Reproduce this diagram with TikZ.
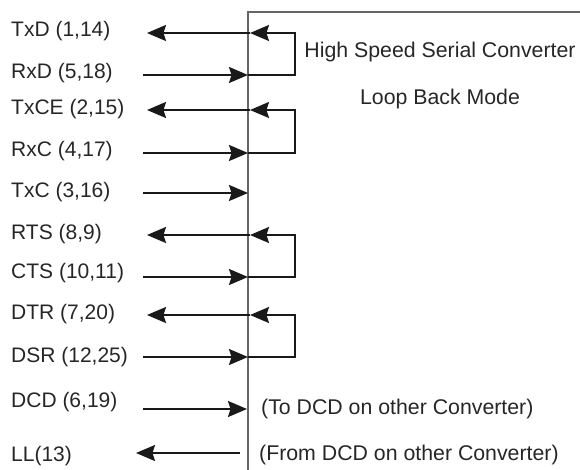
\documentclass[tikz,border=0pt]{standalone}
\usepackage{fontspec}
\setmainfont{Liberation Sans}
\usetikzlibrary{arrows.meta}
\begin{document}
\begin{tikzpicture}[x=1pt,y=-1pt,
  lbl/.style={anchor=west,inner sep=0pt,text=black!85,font=\fontsize{21}{25}\selectfont},
  rtxt/.style={inner sep=0pt,text=black!85,font=\fontsize{21.3}{25}\selectfont},
  sig/.style={line width=1.8pt,black!90},
  tip/.style={-{Stealth[length=19pt,width=16pt,inset=2.5pt]}},
  boxline/.style={line width=2.2pt,black!60}]
\useasboundingbox (0,0) rectangle (580,470);
% box
\coordinate (top) at (248,12);
\coordinate (bot) at (248,470);
\coordinate (topR) at (580,12);
\draw[boxline] (bot) -- (top) -- (topR);
% labels
\node[lbl] (lTxD) at (11,31) {TxD (1,14)};
\node[lbl] (lRxD) at (11,73.5) {RxD (5,18)};
\node[lbl] (lTxCE) at (11,109) {TxCE (2,15)};
\node[lbl] (lRxC) at (11,151) {RxC (4,17)};
\node[lbl] (lTxC) at (11,192) {TxC (3,16)};
\node[lbl] (lRTS) at (11,234) {RTS (8,9)};
\node[lbl] (lCTS) at (11,273) {CTS (10,11)};
\node[lbl] (lDTR) at (11,314) {DTR (7,20)};
\node[lbl] (lDSR) at (11,357) {DSR (12,25)};
\node[lbl] (lDCD) at (11,402) {DCD (6,19)};
\node[lbl] (lLL) at (11,456) {LL(13)};
% right texts
\node[rtxt] (t1) at (440,52) {High Speed Serial Converter};
\node[rtxt] (t2) at (440,99) {Loop Back Mode};
\node[rtxt,anchor=west] (t3) at (261,409) {(To DCD on other Converter)};
\node[rtxt,anchor=west] (t4) at (259,455) {(From DCD on other Converter)};
% loops: out, in, y-top, y-bottom
\foreach \n/\ya/\yb in {a/33/75, b/110/153, c/235/277, d/315/357}{
  \coordinate (oL\n) at (147,\ya);
  \coordinate (oV\n) at (250,\ya);
  \coordinate (oR\n) at (295,\ya);
  \coordinate (iL\n) at (143,\yb);
  \coordinate (iV\n) at (248,\yb);
  \coordinate (iR\n) at (295,\yb);
  \draw[sig,tip] (iL\n) -- (iV\n);
  \draw[sig,tip] (iV\n) -- (iR\n) -- (oR\n) -- (oV\n);
  \draw[sig,tip] (oV\n) -- (oL\n);
}
% TxC
\coordinate (txcL) at (143,193);
\coordinate (txcV) at (248,193);
\draw[sig,tip] (txcL) -- (txcV);
% DCD
\coordinate (dcdL) at (143,409);
\coordinate (dcdV) at (247,409);
\draw[sig,tip] (dcdL) -- (dcdV);
% LL
\coordinate (llR) at (240,453);
\coordinate (llL) at (136,453);
\draw[sig,tip] (llR) -- (llL);
\end{tikzpicture}
\end{document}
